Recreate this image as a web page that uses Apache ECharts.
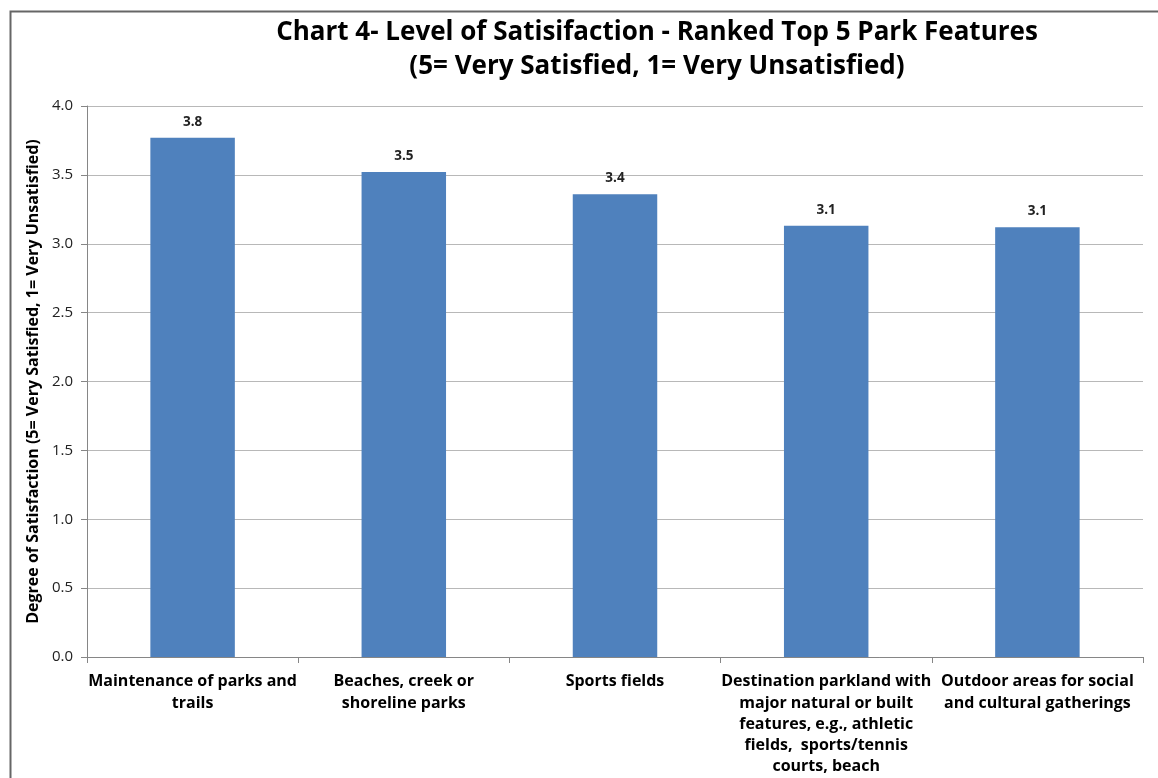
<!DOCTYPE html>
<html><head><meta charset="utf-8">
<script src="https://cdn.jsdelivr.net/npm/echarts@6/dist/echarts.min.js"></script>
<style>html,body{margin:0;padding:0;background:#fff}#c{width:1158px;height:778px}</style>
</head><body><div id="c"></div>
<script>
const categories = [
  "Maintenance of parks and\ntrails",
  "Beaches, creek or\nshoreline parks",
  "Sports fields",
  "Destination parkland with\nmajor natural or built\nfeatures, e.g., athletic\nfields,  sports/tennis\ncourts, beach",
  "Outdoor areas for social\nand cultural gatherings"
];
const values = [3.77, 3.52, 3.36, 3.13, 3.12];
const titleLines = ["Chart 4- Level of Satisifaction - Ranked Top 5 Park Features", "(5= Very Satisfied, 1= Very Unsatisfied)"];
const yAxisTitle = "Degree of Satisfaction (5= Very Satisfied, 1= Very Unsatisfied)";

const FONT = "'Open Sans', Lato, sans-serif";
const chart = echarts.init(document.getElementById('c'), null, {renderer: 'canvas'});
chart.setOption({
  backgroundColor: '#fff',
  animation: false,
  graphic: [{
    type: 'rect', left: 8, top: 9,
    shape: {width: 1160, height: 780},
    style: {fill: 'none', stroke: '#666', lineWidth: 2}
  }],
  title: {
    text: titleLines.join('\n'),
    left: 652, top: 11, textAlign: 'center',
    textStyle: {fontFamily: FONT, fontWeight: 'bold', fontSize: 26, color: '#000', lineHeight: 34}
  },
  grid: {left: 87, right: 15, top: 106, bottom: 121, containLabel: false},
  xAxis: {
    type: 'category', data: categories,
    axisLine: {lineStyle: {color: '#868686', width: 1}},
    axisTick: {show: true, length: 6, lineStyle: {color: '#868686'}},
    axisLabel: {interval: 0, margin: 14, fontFamily: FONT, fontWeight: 'bold', fontSize: 16, color: '#000', lineHeight: 21.3}
  },
  yAxis: {
    type: 'value', min: 0, max: 4, interval: 0.5,
    name: yAxisTitle, nameLocation: 'middle', nameGap: 45, nameRotate: 90,
    nameTextStyle: {fontFamily: FONT, fontWeight: 'bold', fontSize: 16, color: '#000'},
    axisLine: {show: true, lineStyle: {color: '#868686'}},
    axisTick: {show: true, length: 6, lineStyle: {color: '#868686'}},
    axisLabel: {formatter: v => v.toFixed(1), fontFamily: FONT, fontSize: 15, color: '#222', margin: 14},
    splitLine: {lineStyle: {color: '#b8b8b8', width: 1}}
  },
  series: [{
    type: 'bar', data: values, barWidth: '40%',
    itemStyle: {color: '#4f81bd'},
    label: {show: true, position: 'top', distance: 9, formatter: p => p.value.toFixed(1),
      fontFamily: FONT, fontWeight: 'bold', fontSize: 13.5, color: '#222'}
  }]
});
</script></body></html>
